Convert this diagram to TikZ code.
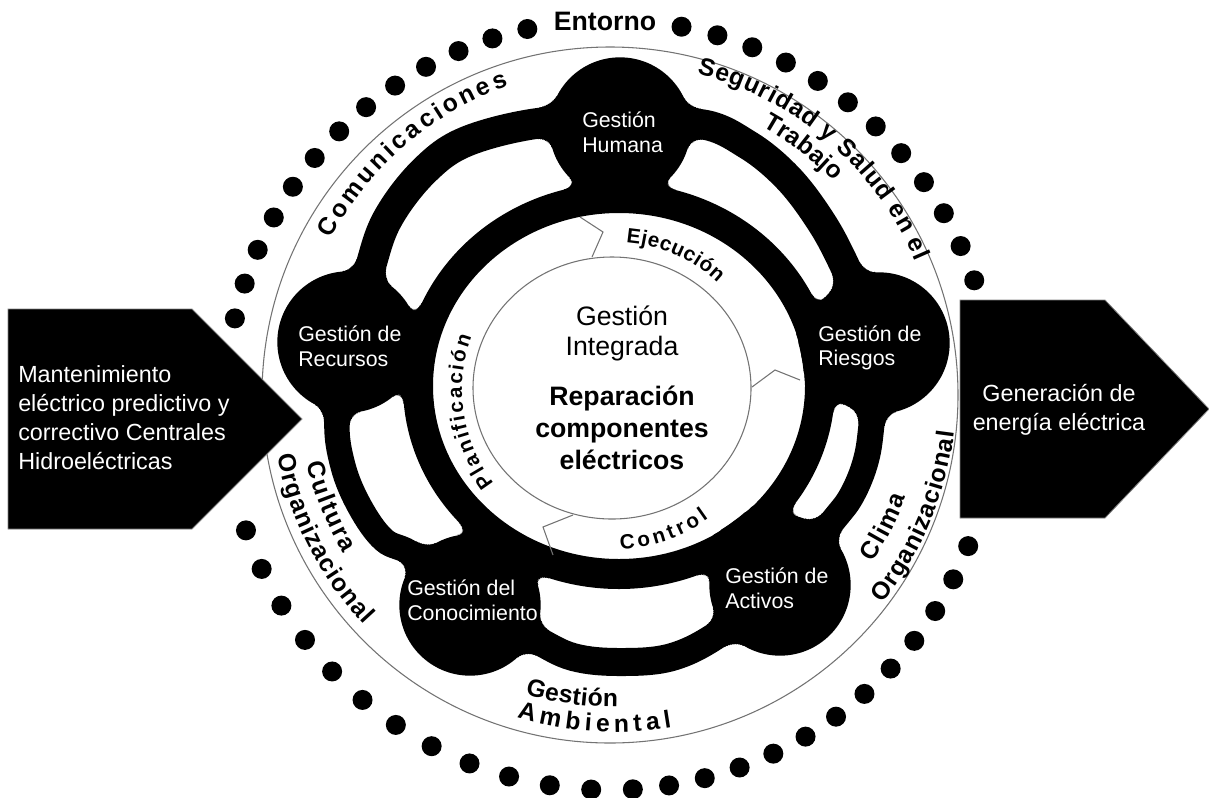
\documentclass[tikz,border=0pt]{standalone}
\usepackage{fontspec}
\setmainfont{Liberation Sans}
\pgfdeclarelayer{bg}
\pgfsetlayers{bg,main}
\def\asp{\kern0.28em}
% #1 name, #2 cx, #3 cy, #4 baseline radius, #5 mid angle, #6 dir (+1 ccw tops in, -1 cw tops out), #7 span (deg, first to last centre), #8 font, #9 chars
\newcommand\arctext[9]{%
  \begingroup
  #8%
  \gdef\atW{0}\gdef\atN{0}\gdef\atF{0}\gdef\atL{0}%
  \foreach \ch in {#9}{%
    \pgfmathsetmacro\chw{width("\ch")/0.75}%
    \pgfmathparse{\atW+\chw}\xdef\atW{\pgfmathresult}%
    \pgfmathparse{\atN+1}\xdef\atN{\pgfmathresult}%
    \ifdim\atN pt=1pt \xdef\atF{\chw}\fi
    \xdef\atL{\chw}%
  }%
  \pgfmathparse{((#7)*pi/180*(#4)-(\atW-\atF/2-\atL/2))/(\atN-1)}\xdef\atT{\pgfmathresult}%
  \pgfmathparse{(#5)-(#6)*(#7)/2}\xdef\atS{\pgfmathresult}%
  \pgfmathparse{-\atF/2}\xdef\atA{\pgfmathresult}%
  \foreach \ch [count=\i] in {#9}{%
    \pgfmathsetmacro\chw{width("\ch")/0.75}%
    \pgfmathsetmacro\atth{\atS+(#6)*(\atA+\chw/2)/(#4)*180/pi}%
    \pgfmathsetmacro\atrot{\atth+(#6)*90}%
    \node[anchor=base, inner sep=0pt, outer sep=0pt, rotate=\atrot, font=#8] (#1-\i) at ({#2+(#4)*cos(\atth)},{#3-(#4)*sin(\atth)}) {\ch};
    \pgfmathparse{\atA+\chw+\atT}\xdef\atA{\pgfmathresult}%
  }%
  \endgroup
}
\newcommand\outerfont{\bfseries\fontsize{18.5}{21}\selectfont}
\newcommand\innerfont{\bfseries\fontsize{15.5}{18}\selectfont}
% band and ring paths, #1 = line width
\newcommand\ringpath[1]{\draw[line width=#1] (619,386) ellipse [x radius=201, y radius=188];}
\newcommand\bandA[1]{\draw[line width=#1] plot[smooth, tension=0.6] coordinates {(rec.center) (368,275) (387,220) (425,170) (470,140) (550,122) (hum.center)};}
\newcommand\bandB[1]{\draw[line width=#1] plot[smooth, tension=0.6] coordinates {(hum.center) (700,124) (748,145) (787,177) (818,217) (842,260) (rie.center)};}
\newcommand\bandC[1]{\draw[line width=#1] plot[smooth, tension=0.6] coordinates {(rec.center) (337,418) (343,466) (360,507) (384,540) (415,556) (con.center)};}
\newcommand\bandD[1]{\draw[line width=#1] plot[smooth, tension=0.6] coordinates {(rie.center) (872,420) (866,460) (852,495) (832,522) (act.center)};}
\newcommand\bandE[1]{\draw[line width=#1] plot[smooth, tension=0.6] coordinates {(con.center) (533,638) (573,657) (620,662) (672,657) (720,633) (act.center)};}
% fillet where a band meets a disc: #1 disc, #2 band macro, #3 base width (pt)
\newcommand\fillet[3]{%
  \foreach \d/\e in {0.5/10,1.2/7.5,2/6,3/4.8,4/3.8,5.2/2.9,6.5/2.1,8/1.4,10/0.8,12.5/0.3}{%
    \begin{scope}
      \clip (#1.center) circle [radius=70.7+\d];
      #2{#3pt+\e*1.5pt}
    \end{scope}
  }%
}
\begin{document}
\begin{tikzpicture}[x=0.75pt,y=-0.75pt,
  disc/.style={circle, fill=black, minimum size=106pt, inner sep=0pt},
  disctext/.style={text=white, align=left, font=\fontsize{16}{18.5}\selectfont, inner sep=0pt, anchor=west},
  thinline/.style={draw=black!55, line width=0.8pt},
  arrowtext/.style={text=white, font=\fontsize{17.5}{21.75}\selectfont, inner sep=0pt},
]
\useasboundingbox (0,0) rectangle (1209,797);

% discs
\node[disc] (hum) at (620,128) {};
\node[disc] (rec) at (348,342) {};
\node[disc] (rie) at (879,343) {};
\node[disc] (con) at (470,605) {};
\node[disc] (act) at (780,585) {};

\begin{pgfonlayer}{bg}
  % inner ring and outer bands
  \ringpath{22.5pt}
  \bandA{23pt}
  \bandB{22.5pt}
  \bandC{19pt}
  \bandD{19.5pt}
  \bandE{21pt}
  % smooth joins with the discs
  \fillet{hum}{\ringpath}{22.5}
  \fillet{rec}{\ringpath}{22.5}
  \fillet{rie}{\ringpath}{22.5}
  \fillet{con}{\ringpath}{22.5}
  \fillet{act}{\ringpath}{22.5}
  \fillet{rec}{\bandA}{23}
  \fillet{hum}{\bandA}{23}
  \fillet{hum}{\bandB}{22.5}
  \fillet{rie}{\bandB}{22.5}
  \fillet{rec}{\bandC}{19}
  \fillet{con}{\bandC}{19}
  \fillet{rie}{\bandD}{19.5}
  \fillet{act}{\bandD}{19.5}
  \fillet{con}{\bandE}{21}
  \fillet{act}{\bandE}{21}
  % inner circle and cycle separators
  \draw[thinline] (612,388) ellipse [x radius=139, y radius=131];
  \draw[thinline] (580,217) -- (603,232) -- (592,257);
  \draw[thinline] (752,387) -- (775,370) -- (800,380);
  \draw[thinline] (573,515) -- (543,527) -- (553,555);
  % outer thin circle
  \draw[thinline] (610,395) circle [radius=348];
  % dotted environment
  \foreach \k in {0,...,12} \fill ({610+385*cos(102.4+\k*5.383)},{405-385*sin(102.4+\k*5.383)}) circle [radius=10];
  \foreach \k in {0,...,11} \fill ({610+385*cos(18.9+\k*5.49)},{405-385*sin(18.9+\k*5.49)}) circle [radius=10];
  \foreach \k in {0,...,11} \fill ({610+385*cos(199+\k*6.2)},{405-385*sin(199+\k*6.2)}) circle [radius=10];
  \foreach \k in {0,...,12} \fill ({610+385*cos(273.4+\k*5.425)},{405-385*sin(273.4+\k*5.425)}) circle [radius=10];
  % arrows
  \fill[draw=black!50, line width=0.6pt] (8,309) -- (192,309) -- (302,419) -- (192,529) -- (8,529) -- cycle;
  \fill[draw=black!50, line width=0.6pt] (960,300) -- (1105,300) -- (1209,409) -- (1105,518) -- (960,518) -- cycle;
\end{pgfonlayer}

% disc labels
\node[disctext] (thum) at (582,132) {Gestión\\Humana};
\node[disctext] (trec) at (298,346) {Gestión de\\Recursos};
\node[disctext] (trie) at (818,348) {Gestión de\\Riesgos};
\node[disctext] (tcon) at (407,600) {Gestión del\\Conocimiento};
\node[disctext] (tact) at (725,588) {Gestión de\\Activos};

% arrow labels
\node[arrowtext, align=left, anchor=west] (inp) at (18,418) {Mantenimiento\\eléctrico predictivo y\\correctivo Centrales\\Hidroeléctricas};
\node[arrowtext, align=center] (outp) at (1059,410) {Generación de\\energía eléctrica};

% centre
\node[align=center, inner sep=0pt, font=\fontsize{20}{22.5}\selectfont] (gi) at (622,333) {Gestión\\Integrada};
\node[align=center, inner sep=0pt, font=\bfseries\fontsize{20}{23.75}\selectfont] (rep) at (622,428) {Reparación\\componentes\\eléctricos};

% environment title
\node[inner sep=0pt, font=\bfseries\fontsize{20}{24}\selectfont] (ent) at (605,21) {Entorno};

% curved labels
\arctext{com}{615}{390}{322}{130.5}{-1}{39.9}{\outerfont}{C,o,m,u,n,i,c,a,c,i,o,n,e,s}
\arctext{seg}{615}{390}{327}{48.9}{-1}{50.3}{\outerfont}{S,e,g,u,r,i,d,a,d,\asp,y,\asp,S,a,l,u,d,\asp,e,n,\asp,e,l}
\arctext{tra}{615}{390}{302}{52.2}{-1}{14.3}{\outerfont}{T,r,a,b,a,j,o}
\arctext{eje}{615}{390}{148}{65.8}{-1}{34.4}{\innerfont}{E,j,e,c,u,c,i,ó,n}
\arctext{pla}{615}{390}{153}{188.5}{-1}{53}{\innerfont}{P,l,a,n,i,f,i,c,a,c,i,ó,n}
\arctext{ctl}{615}{390}{159}{-70.2}{1}{30.4}{\innerfont}{C,o,n,t,r,o,l}
\arctext{cul}{615}{390}{317}{202.4}{1}{14.7}{\outerfont}{C,u,l,t,u,r,a}
\arctext{orl}{615}{390}{344}{207.5}{1}{30}{\outerfont}{O,r,g,a,n,i,z,a,c,i,o,n,a,l}
\arctext{cli}{615}{390}{310}{-26.8}{1}{10.6}{\outerfont}{C,l,i,m,a}
\arctext{orr}{615}{390}{342}{-22.3}{1}{29.3}{\outerfont}{O,r,g,a,n,i,z,a,c,i,o,n,a,l}
\arctext{ges}{615}{390}{317}{262.2}{1}{13.9}{\outerfont}{G,e,s,t,i,ó,n}
\arctext{amb}{615}{390}{342}{266.9}{1}{24.2}{\outerfont}{A,m,b,i,e,n,t,a,l}
\end{tikzpicture}
\end{document}
